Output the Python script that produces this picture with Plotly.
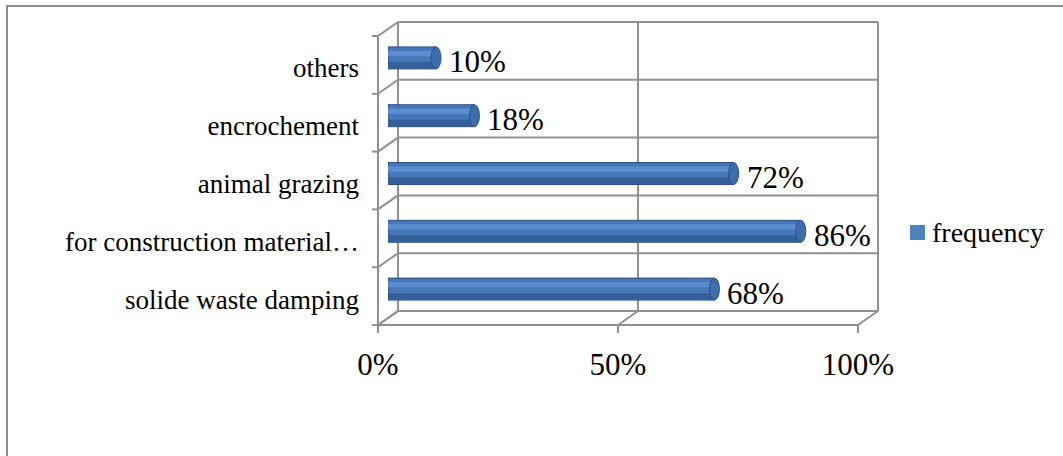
import plotly.graph_objects as go

# Survey: causes of forest degradation (share of respondents)
categories = [
    "solide waste damping",
    "for construction material…",
    "animal grazing",
    "encrochement",
    "others",
]
frequency = [0.68, 0.86, 0.72, 0.18, 0.10]
series_name = "frequency"

W, H = 1063, 456
# plotting plane (mid depth of the pseudo-3D box), in pixels
PL, PR, PT, PB = 388, 868, 29, 318
DX, DY = 10, 7  # half depth offset of the box

GRID = "#909090"
SERIF = "Liberation Serif, Times New Roman, serif"


def px(x):
    return (x - PL) / (PR - PL)


def py(y):
    return (PB - y) / (PB - PT)


def line(x0, y0, x1, y1, color=GRID, width=2):
    return dict(type="line", xref="paper", yref="paper", layer="below",
                x0=px(x0), y0=py(y0), x1=px(x1), y1=py(y1),
                line=dict(color=color, width=width))


shapes = []
# outer chart border
shapes.append(dict(type="rect", xref="paper", yref="paper", layer="below",
                   x0=px(7), y0=py(6), x1=px(W + 20), y1=py(H + 20),
                   line=dict(color="#8c8c8c", width=2), fillcolor="rgba(0,0,0,0)"))

n = len(categories)
step = (PB - PT) / n
back_top, back_bot = PT - DY, PB - DY
front_l = PL - DX
# back wall: horizontal category separators and vertical value grid
for k in range(n + 1):
    yb = back_top + k * step
    shapes.append(line(PL + DX, yb, PR + DX, yb))
    # side wall diagonals and ticks
    shapes.append(line(front_l, yb + 2 * DY, PL + DX, yb))
    shapes.append(line(front_l - 6, yb + 2 * DY, front_l, yb + 2 * DY))
for v in (0, 0.5, 1):
    xb = PL + DX + v * (PR - PL)
    xf = PL - DX + v * (PR - PL)
    shapes.append(line(xb, back_top, xb, back_bot))
    shapes.append(line(xb, back_bot, xf, back_bot + 2 * DY))
    shapes.append(line(xf, back_bot + 2 * DY, xf, back_bot + 2 * DY + 8))
# side wall front edge and floor front edge
shapes.append(line(front_l, back_top + 2 * DY, front_l, back_bot + 2 * DY))
shapes.append(line(front_l, back_bot + 2 * DY, PR - DX, back_bot + 2 * DY))

# cylinder end caps
BAR_W = 0.38
cap = 5 / (PR - PL)
for i, v in enumerate(frequency):
    shapes.append(dict(type="circle", xref="x", yref="y", layer="below",
                       x0=-cap, x1=cap, y0=i - BAR_W / 2, y1=i + BAR_W / 2,
                       fillcolor="#4677B8", line=dict(color="#2E5386", width=1)))
    shapes.append(dict(type="circle", xref="x", yref="y", layer="above",
                       x0=v - cap, x1=v + cap, y0=i - BAR_W / 2, y1=i + BAR_W / 2,
                       fillcolor="#3E6DAC", line=dict(color="#2D5287", width=1)))

# legend swatch
shapes.append(dict(type="rect", xref="paper", yref="paper", layer="above",
                   x0=px(910), x1=px(925), y0=py(240), y1=py(225),
                   fillcolor="#4F81BD", line=dict(width=0)))

fig = go.Figure()
# cylinder body: mid-tone base, darker lower band, lighter highlight band
fig.add_trace(go.Bar(y=categories, x=frequency, orientation="h", width=BAR_W,
                     marker=dict(color="#4677B8", line=dict(color="#2C4F80", width=1)),
                     name=series_name, showlegend=False, hoverinfo="x+y"))
fig.add_trace(go.Bar(y=categories, x=frequency, orientation="h", width=0.11,
                     offset=-BAR_W / 2 + 0.01, marker=dict(color="#355F99", line=dict(width=0)),
                     showlegend=False, hoverinfo="skip"))
fig.add_trace(go.Bar(y=categories, x=frequency, orientation="h", width=0.09,
                     offset=0.03, marker=dict(color="#5A8ED1", line=dict(width=0)),
                     showlegend=False, hoverinfo="skip"))

annotations = []
for c, v in zip(categories, frequency):
    annotations.append(dict(x=v, y=c, xref="x", yref="y", text=f"{round(v * 100)}%",
                            showarrow=False, xanchor="left", yanchor="middle",
                            xshift=11, yshift=-4,
                            font=dict(family=SERIF, size=31, color="black")))
annotations.append(dict(x=px(930), y=py(233), xref="paper", yref="paper",
                        text=series_name, showarrow=False, xanchor="left",
                        yanchor="middle", font=dict(family=SERIF, size=28, color="black")))

fig.update_layout(
    width=W, height=H,
    margin=dict(l=PL, r=W - PR, t=PT, b=H - PB, autoexpand=False),
    paper_bgcolor="white", plot_bgcolor="rgba(0,0,0,0)",
    barmode="overlay", showlegend=False,
    shapes=shapes, annotations=annotations,
    xaxis=dict(range=[0, 1], tickvals=[0, 0.5, 1], tickformat=".0%",
               showgrid=False, zeroline=False, showline=False, ticks="",
               ticklabelshift=-10, ticklabelstandoff=25, automargin=False,
               tickfont=dict(family=SERIF, size=31, color="black"), fixedrange=True),
    yaxis=dict(range=[-0.5, n - 0.5], categoryorder="array", categoryarray=categories,
               showgrid=False, zeroline=False, showline=False, ticks="",
               ticklabelshift=10, ticklabelstandoff=28, automargin=False,
               tickfont=dict(family=SERIF, size=27, color="black"), fixedrange=True),
)

fig.write_html("out.html")
